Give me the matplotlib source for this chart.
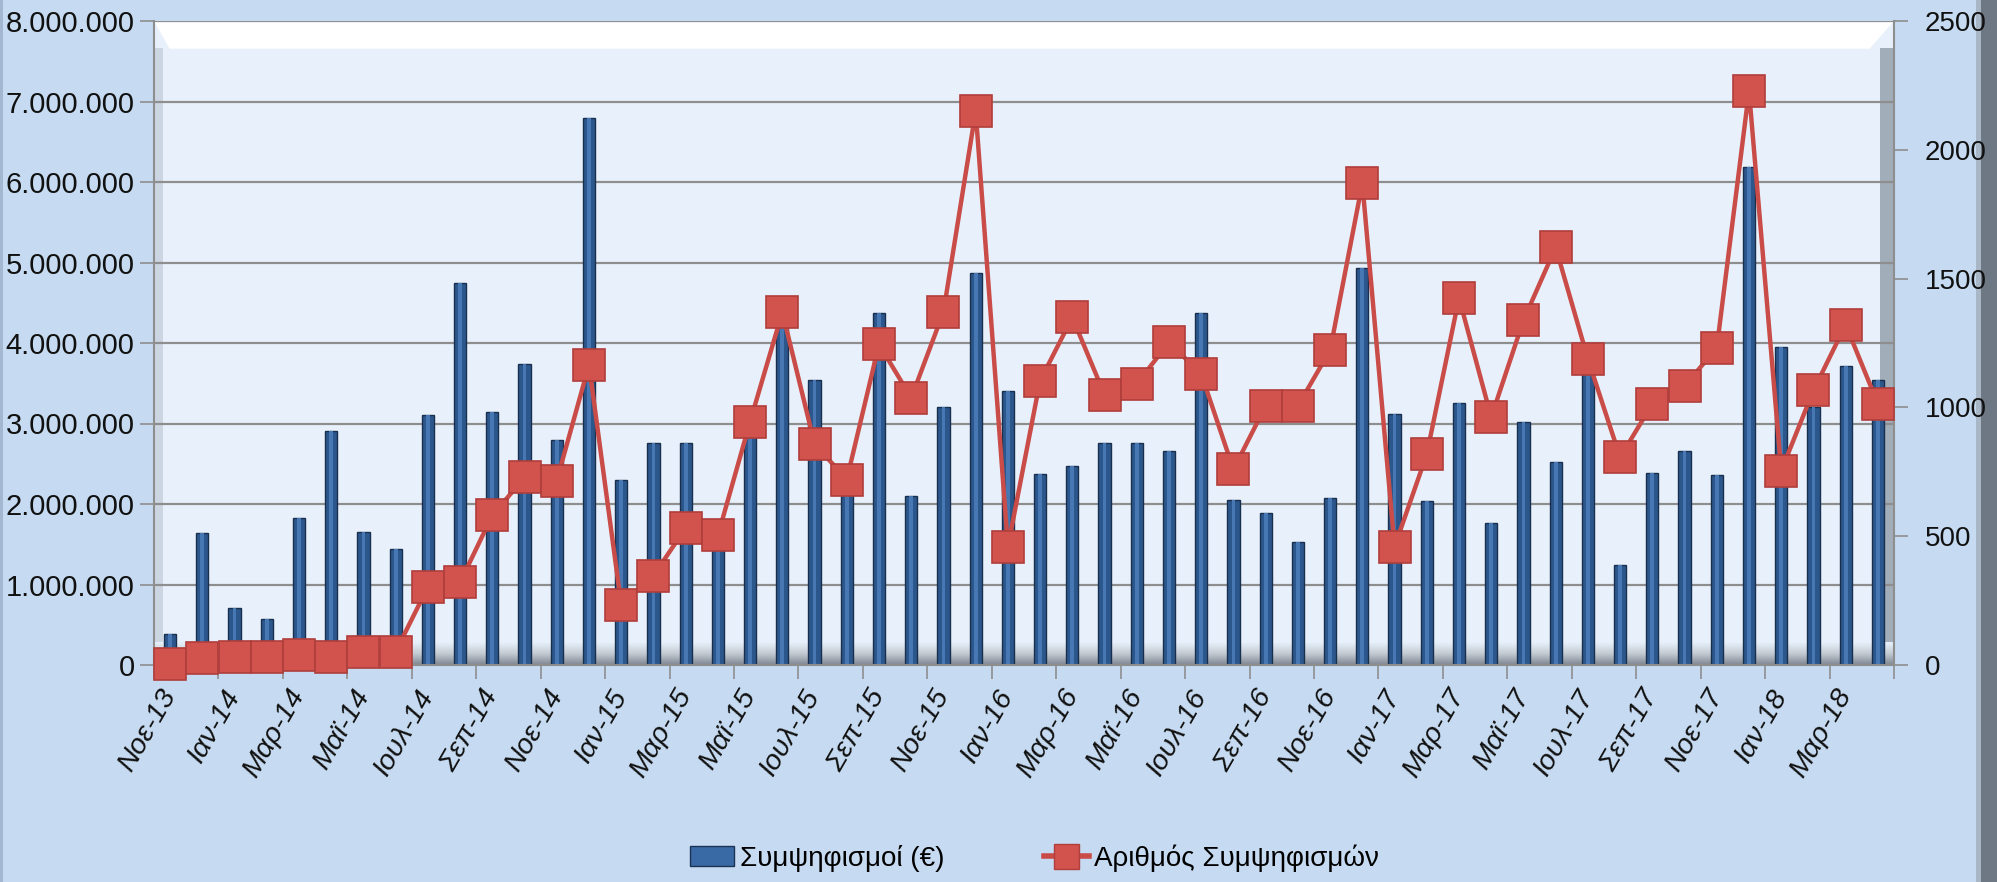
import matplotlib
matplotlib.use("Agg")
import matplotlib.pyplot as plt
import numpy as np
from matplotlib.ticker import FixedLocator, FuncFormatter
from matplotlib.patches import Polygon, Rectangle
from matplotlib.lines import Line2D
from matplotlib.colors import LinearSegmentedColormap

plt.rcParams['font.family'] = ['Liberation Sans', 'DejaVu Sans']

# ---------------- data ----------------
month_labels = [
    "Νοε-13", "Δεκ-13",
    "Ιαν-14", "Φεβ-14", "Μαρ-14", "Απρ-14", "Μαϊ-14", "Ιουν-14", "Ιουλ-14", "Αυγ-14", "Σεπ-14", "Οκτ-14", "Νοε-14", "Δεκ-14",
    "Ιαν-15", "Φεβ-15", "Μαρ-15", "Απρ-15", "Μαϊ-15", "Ιουν-15", "Ιουλ-15", "Αυγ-15", "Σεπ-15", "Οκτ-15", "Νοε-15", "Δεκ-15",
    "Ιαν-16", "Φεβ-16", "Μαρ-16", "Απρ-16", "Μαϊ-16", "Ιουν-16", "Ιουλ-16", "Αυγ-16", "Σεπ-16", "Οκτ-16", "Νοε-16", "Δεκ-16",
    "Ιαν-17", "Φεβ-17", "Μαρ-17", "Απρ-17", "Μαϊ-17", "Ιουν-17", "Ιουλ-17", "Αυγ-17", "Σεπ-17", "Οκτ-17", "Νοε-17", "Δεκ-17",
    "Ιαν-18", "Φεβ-18", "Μαρ-18", "Απρ-18",
]

amounts_eur = [
    380000, 1640000,
    710000, 570000, 1820000, 2910000, 1650000, 1440000, 3100000, 4740000, 3140000, 3740000, 2790000, 6800000,
    2300000, 2760000, 2760000, 1550000, 3000000, 4270000, 3540000, 2300000, 4370000, 2100000, 3210000, 4870000,
    3400000, 2370000, 2470000, 2760000, 2760000, 2660000, 4370000, 2050000, 1890000, 1530000, 2080000, 4930000,
    3120000, 2040000, 3260000, 1760000, 3020000, 2520000, 3750000, 1240000, 2390000, 2660000, 2360000, 6190000,
    3950000, 3200000, 3710000, 3540000,
]

counts = [
    5, 26,
    31, 30, 38, 30, 52, 52, 303, 321, 581, 728, 716, 1165,
    234, 347, 532, 503, 945, 1370, 858, 720, 1245, 1037, 1370, 2150,
    459, 1104, 1349, 1049, 1092, 1252, 1130, 759, 1006, 1006, 1222, 1870,
    459, 818, 1425, 962, 1338, 1621, 1188, 806, 1014, 1083, 1231, 2228,
    754, 1066, 1321, 1014,
]

bar_label = "Συμψηφισμοί (€)"
line_label = "Αριθμός Συμψηφισμών"
left_ticks = [0, 1000000, 2000000, 3000000, 4000000, 5000000, 6000000, 7000000, 8000000]
right_ticks = [0, 500, 1000, 1500, 2000, 2500]

# ---------------- figure ----------------
W, H = 1997, 882
fig = plt.figure(figsize=(W / 100, H / 100), dpi=100)
fig.patch.set_facecolor("#C6DBF1")

# outer chart frame decorations
fig.patches.append(Rectangle((1981 / W, 0), 16 / W, 1, transform=fig.transFigure,
                             facecolor="#6E7885", edgecolor="none", zorder=-2))
fig.patches.append(Rectangle((1976 / W, 0), 5 / W, 1, transform=fig.transFigure,
                             facecolor="#A9B6C6", edgecolor="none", zorder=-2))
fig.patches.append(Rectangle((0, 0), 3 / W, 1, transform=fig.transFigure,
                             facecolor="#A3B8D0", edgecolor="none", zorder=-2))

left, right = 154 / W, 1894 / W
bottom, top = 1 - 665 / H, 1 - 21 / H
ax = fig.add_axes([left, bottom, right - left, top - bottom])
ax.set_zorder(1)
ax.set_facecolor("#E8F1FB")

x = np.arange(len(month_labels))
ax.set_xlim(-0.5, len(month_labels) - 0.5)
ax.set_ylim(0, 8000000)

# decorative 3D frame: top white bevel, side shadows, bottom floor gradient
ax.add_patch(Polygon([[0, 1], [1, 1], [0.986, 0.957], [0.009, 0.957]], closed=True,
                     transform=ax.transAxes, facecolor="white", edgecolor="none", zorder=0.5))
ax.add_patch(Rectangle((0.992, 0), 0.008, 0.958, transform=ax.transAxes,
                       facecolor="#A2ADBA", edgecolor="none", zorder=0.5))
ax.add_patch(Rectangle((0.0, 0), 0.005, 0.958, transform=ax.transAxes,
                       facecolor="#CCD6E2", edgecolor="none", zorder=0.5))
floor_cmap = LinearSegmentedColormap.from_list("floor", ["#7F8893", "#C3CAD2", "#E8F1FB"])
ax.imshow(np.linspace(0, 1, 64).reshape(-1, 1), cmap=floor_cmap, aspect="auto",
          extent=[0, 1, 0, 0.035], origin="lower", transform=ax.transAxes, zorder=0.6)

ax.set_yticks(left_ticks)
ax.yaxis.grid(True, color="#8E8E8E", linewidth=1.6, zorder=0.8)
ax.set_axisbelow(True)
ax.yaxis.set_major_formatter(FuncFormatter(lambda v, p: f"{int(v):,}".replace(",", ".")))

# bars
ax.bar(x, amounts_eur, width=0.38, color="#2C578C", edgecolor="#182F4E", linewidth=1.0, zorder=2)
ax.bar(x, amounts_eur, width=0.12, color="#4878B3", edgecolor="none", zorder=2.1)

# x ticks: labels every other month, marks at boundaries
ax.set_xticks(x[::2])
ax.set_xticklabels(month_labels[::2], rotation=60, ha="right", va="center", rotation_mode="anchor",
                   fontsize=20.5, style="italic", color="#111111")
ax.xaxis.set_minor_locator(FixedLocator(np.arange(-0.5, len(month_labels), 2)))
ax.tick_params(axis="x", which="major", length=0, pad=19)
ax.tick_params(axis="x", which="minor", length=10, color="#8E8E8E", width=1.2)
ax.tick_params(axis="y", which="major", length=10, color="#8E8E8E", width=1.2,
               labelsize=21, labelcolor="#111111", pad=4)

for s in ["top", "right"]:
    ax.spines[s].set_visible(False)
ax.spines["left"].set_color("#8E8E8E")
ax.spines["left"].set_linewidth(1.5)
ax.spines["bottom"].set_color("#8E8E8E")
ax.spines["bottom"].set_linewidth(1.5)

# line on secondary axis
ax2 = ax.twinx()
ax2.set_zorder(2)
ax2.set_ylim(0, 2500)
ax2.set_yticks(right_ticks)
ax2.plot(x, counts, color="#C94C48", linewidth=3.2, marker="s", markersize=23,
         markerfacecolor="#D2524E", markeredgecolor="#B03E3B", markeredgewidth=1.2,
         zorder=5, clip_on=False)
ax2.tick_params(axis="y", length=10, color="#8E8E8E", width=1.2, labelsize=20,
                labelcolor="#111111", pad=12)
for s in ["top", "left", "bottom"]:
    ax2.spines[s].set_visible(False)
ax2.spines["right"].set_color("#8E8E8E")
ax2.spines["right"].set_linewidth(1.5)

# legend
h1 = Rectangle((0, 0), 1, 1, facecolor="#3A6AA5", edgecolor="#1A3354")
h2 = Line2D([], [], color="#C94C48", linewidth=4, marker="s", markersize=18,
            markerfacecolor="#D2524E", markeredgecolor="#B03E3B")
fig.legend([h1, h2], [bar_label, line_label], loc="center", bbox_to_anchor=(0.518, 0.027),
           ncol=2, frameon=False, fontsize=20, handlelength=1.6, handletextpad=0.2,
           columnspacing=3.6)

fig.savefig("out.png", dpi=100, facecolor=fig.get_facecolor())
